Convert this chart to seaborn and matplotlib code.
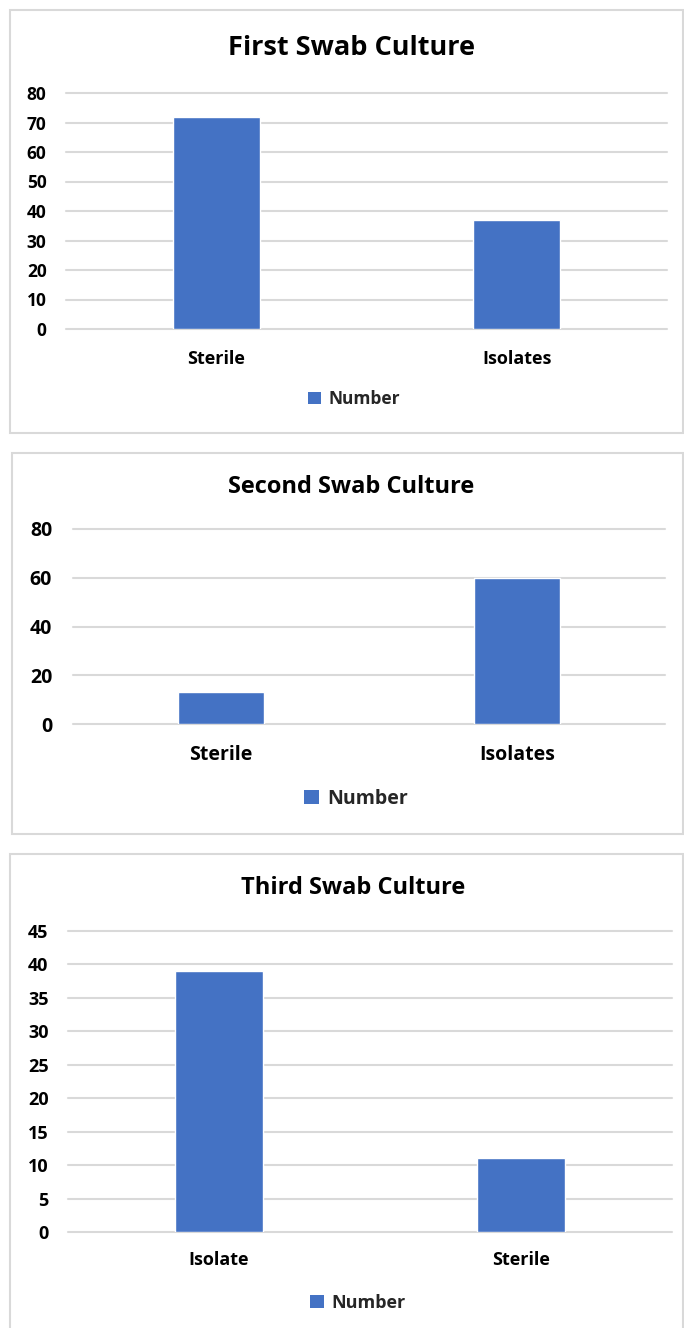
import matplotlib
matplotlib.use("Agg")
import matplotlib.pyplot as plt
import seaborn as sns
import pandas as pd
from matplotlib.patches import Patch, Rectangle

# ---- data ----
titles = ["First Swab Culture", "Second Swab Culture", "Third Swab Culture"]
cats1 = ["Sterile", "Isolates"]
vals1 = [72, 37]
cats2 = ["Sterile", "Isolates"]
vals2 = [13, 60]
cats3 = ["Isolate", "Sterile"]
vals3 = [39, 11]
yticks1 = [0, 10, 20, 30, 40, 50, 60, 70, 80]
yticks2 = [0, 20, 40, 60, 80]
yticks3 = [0, 5, 10, 15, 20, 25, 30, 35, 40, 45]
series_name = "Number"

BAR = "#4472C4"
GRID = "#d9d9d9"
W, H = 684, 1328

sns.set_style("white")
plt.rcParams["font.family"] = ["Open Sans", "DejaVu Sans"]
plt.rcParams["font.weight"] = "bold"

fig = plt.figure(figsize=(W / 100, H / 100), dpi=100)

def fx(px):
    return px / W

def fy(py):
    return 1 - py / H

# panel layout in pixels
panels = [
    dict(cats=cats1, vals=vals1, yt=yticks1, title=titles[0],
         box=(10, 10, 683, 433), ax=(66, 93, 667, 329), title_x=351, title_y=48,
         leg_y=399, leg_x=354, tfs=19.5, yfs=12.5, xfs=13, lfs=12.5, ypad=14, xpad=15),
    dict(cats=cats2, vals=vals2, yt=yticks2, title=titles[1],
         box=(12, 453, 683, 834), ax=(73, 529, 665, 724), title_x=351, title_y=487,
         leg_x=356, leg_y=799, tfs=17, yfs=14, xfs=14, lfs=14, ypad=15, xpad=15),
    dict(cats=cats3, vals=vals3, yt=yticks3, title=titles[2],
         box=(10, 854, 683, 1340), ax=(68, 931, 672, 1232), title_x=353, title_y=888,
         leg_x=358, leg_y=1303, tfs=17, yfs=13, xfs=13, lfs=13, ypad=14, xpad=14),
]

for p in panels:
    x0, y0, x1, y1 = p["box"]
    fig.patches.append(Rectangle((fx(x0), fy(y1)), fx(x1) - fx(x0), fy(y0) - fy(y1),
                                 transform=fig.transFigure, fill=False,
                                 edgecolor=GRID, linewidth=1.5))
    ax0, ay0, ax1, ay1 = p["ax"]
    ax = fig.add_axes([fx(ax0), fy(ay1), fx(ax1) - fx(ax0), fy(ay0) - fy(ay1)])
    df = pd.DataFrame({"cat": p["cats"], "val": p["vals"]})
    sns.barplot(data=df, x="cat", y="val", order=p["cats"], color=BAR,
                saturation=1, width=0.29, ax=ax, zorder=3)
    ax.set_xlim(-0.5, 1.5)
    ax.set_ylim(p["yt"][0], p["yt"][-1])
    ax.set_yticks(p["yt"])
    ax.yaxis.grid(True, color=GRID, linewidth=1.5)
    ax.xaxis.grid(False)
    ax.set_axisbelow(True)
    for gl in ax.yaxis.get_gridlines():
        gl.set_clip_on(False)
    for s in ax.spines.values():
        s.set_visible(False)
    ax.set_xlabel("")
    ax.set_ylabel("")
    ax.tick_params(axis="y", length=0, pad=p["ypad"], labelsize=p["yfs"], labelcolor="#000000")
    ax.tick_params(axis="x", length=0, pad=p["xpad"], labelsize=p["xfs"], labelcolor="#000000")
    for lab in ax.get_xticklabels() + ax.get_yticklabels():
        lab.set_fontweight("bold")
    fig.text(fx(p["title_x"]), fy(p["title_y"]), p["title"], ha="center", va="center",
             fontsize=p["tfs"], fontweight="bold", color="#000000")
    fig.legend(handles=[Patch(facecolor=BAR, edgecolor="none", label=series_name)],
               loc="center", bbox_to_anchor=(fx(p["leg_x"]), fy(p["leg_y"])),
               bbox_transform=fig.transFigure, frameon=False,
               handlelength=0.75, handleheight=0.75, handletextpad=0.4,
               prop=dict(size=p["lfs"], weight="bold"))

fig.savefig("out.png", dpi=100, facecolor="white")
